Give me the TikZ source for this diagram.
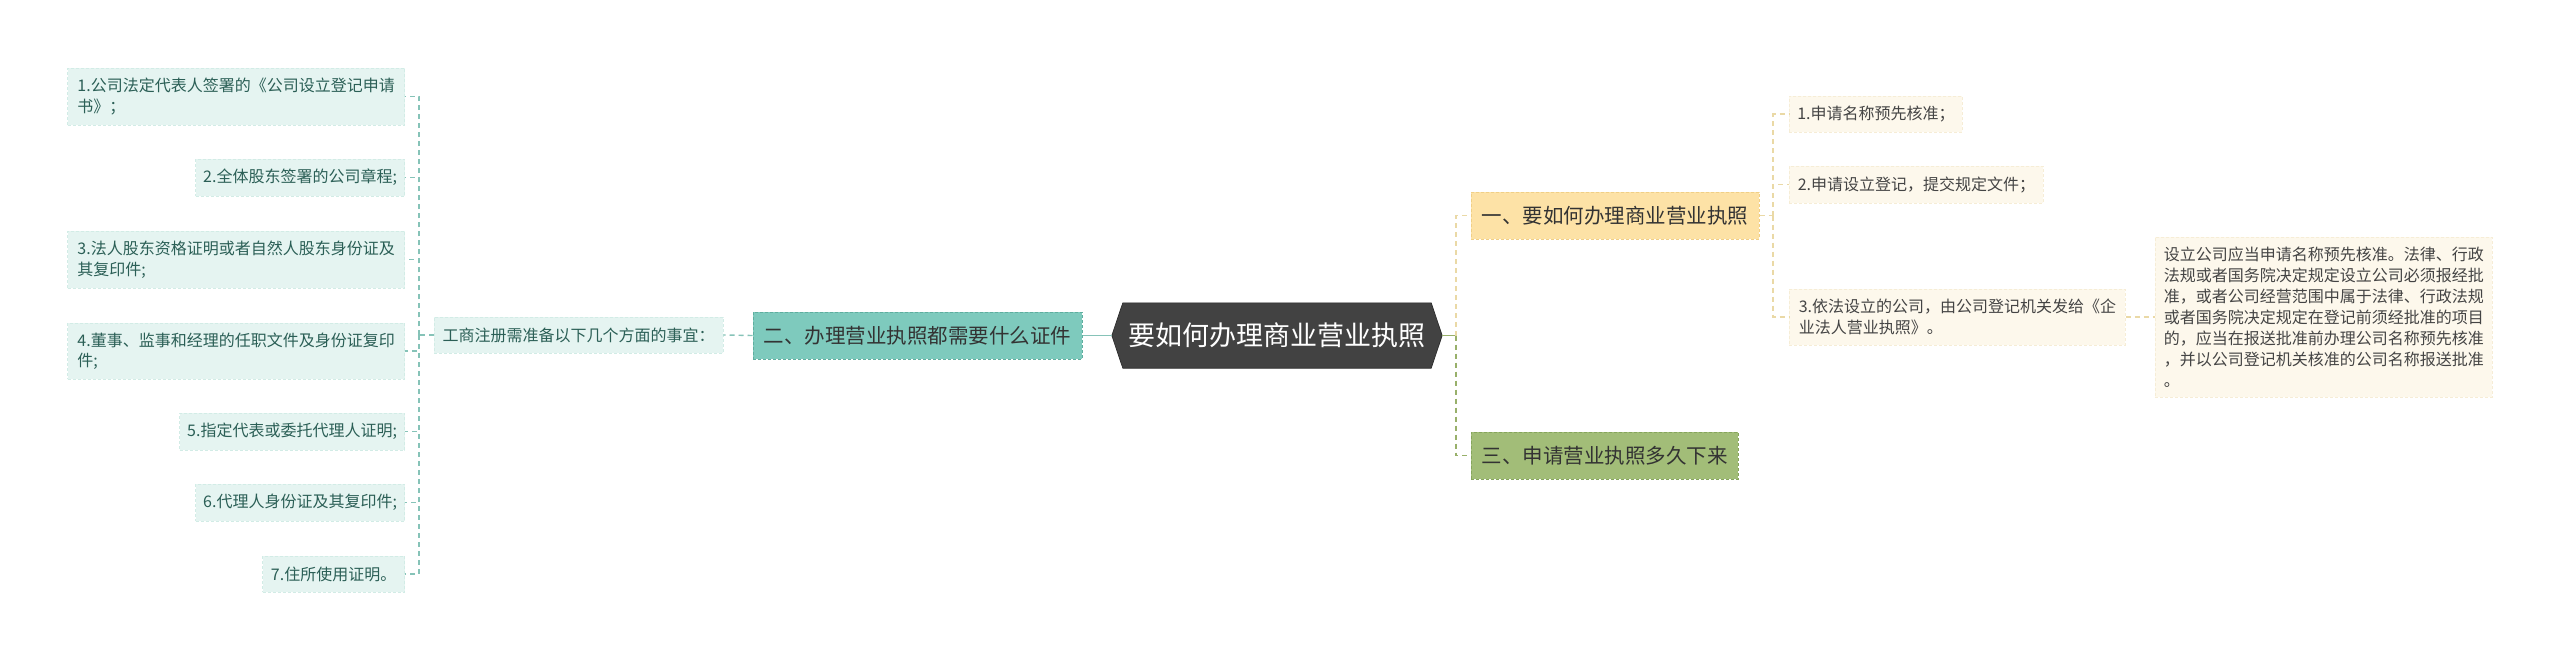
\documentclass[tikz,border=0pt]{standalone}
\usepackage{fontspec}
\setmainfont{Noto Sans CJK SC}
\usetikzlibrary{backgrounds}
\definecolor{lfill}{HTML}{E5F4F1}
\definecolor{lborder}{HTML}{D2ECE6}
\definecolor{ltext}{HTML}{2B5F56}
\definecolor{tealfill}{HTML}{7ECABD}
\definecolor{tealborder}{HTML}{5FAE9F}
\definecolor{tealline}{HTML}{86C3B8}
\definecolor{hexfill}{HTML}{424242}
\definecolor{orfill}{HTML}{FDE2A6}
\definecolor{orborder}{HTML}{F0CF86}
\definecolor{grfill}{HTML}{A2BD78}
\definecolor{grborder}{HTML}{86A55C}
\definecolor{grline}{HTML}{98B06A}
\definecolor{beline}{HTML}{EAD9A6}
\definecolor{crfill}{HTML}{FDF8EC}
\definecolor{crborder}{HTML}{F6EDD6}
\definecolor{crtext}{HTML}{444444}
\begin{document}
\begin{tikzpicture}[x=1pt,y=-1pt,
  txt/.style={inner sep=0pt, align=left, font=\fontsize{16}{20.5}\selectfont},
  lleaf/.style={txt, fill=lfill, draw=lborder, dash pattern=on 3pt off 2pt, line width=0.8pt, text=ltext, anchor=east},
  rleaf/.style={txt, fill=crfill, draw=crborder, dash pattern=on 3pt off 2pt, line width=0.8pt, text=crtext, anchor=west},
  branch/.style={inner sep=0pt, font=\fontsize{20.5}{24}\selectfont, text=black!80, minimum height=47pt, dash pattern=on 3pt off 2pt, line width=1pt},
  lconn/.style={draw=tealline, line width=1.4pt, dash pattern=on 5pt off 4pt},
  bconn/.style={draw=beline, line width=1.4pt, dash pattern=on 5pt off 4pt},
  gconn/.style={draw=grline, line width=1.4pt, dash pattern=on 5pt off 4pt}]
\begin{scope}[on background layer]
\fill[white] (0,0) rectangle (2560,661);
\end{scope}
\useasboundingbox (0,0) rectangle (2560,661);
% left leaves
\node[lleaf, minimum width=337pt, minimum height=57pt] (L1) at (405,96.5) {1.公司法定代表人签署的《公司设立登记申请\\书》；};
\node[lleaf, minimum width=209pt, minimum height=37pt] (L2) at (405,177.5) {2.全体股东签署的公司章程;};
\node[lleaf, minimum width=337pt, minimum height=57pt] (L3) at (405,259.5) {3.法人股东资格证明或者自然人股东身份证及\\其复印件;};
\node[lleaf, minimum width=337pt, minimum height=56pt] (L4) at (405,351) {4.董事、监事和经理的任职文件及身份证复印\\件;};
\node[lleaf, minimum width=225pt, minimum height=37pt] (L5) at (405,431.5) {5.指定代表或委托代理人证明;};
\node[lleaf, minimum width=209pt, minimum height=37pt] (L6) at (405,502.5) {6.代理人身份证及其复印件;};
\node[lleaf, minimum width=142pt, minimum height=36pt] (L7) at (405,574) {7.住所使用证明。};
% sub node
\node[lleaf, anchor=center, minimum width=289pt, minimum height=36pt] (S) at (578.5,335) {工商注册需准备以下几个方面的事宜：};
% branch 2
\node[branch, fill=tealfill, draw=tealborder, minimum width=329pt] (B2) at (917.5,335.5) {二、办理营业执照都需要什么证件};
% center
\node[inner sep=0pt, minimum width=330pt, minimum height=65pt, text=white, font=\fontsize{27}{32}\selectfont] (C) at (1277,335.5) {要如何办理商业营业执照};
\begin{scope}[on background layer]
\fill[hexfill, draw=black!85, line width=0.6pt] ([xshift=11pt]C.north west) -- ([xshift=-11pt]C.north east) -- (C.east) -- ([xshift=-11pt]C.south east) -- ([xshift=11pt]C.south west) -- (C.west) -- cycle;
\end{scope}
% branch 1 and 3
\node[branch, fill=orfill, draw=orborder, minimum width=288pt] (B1) at (1615,215.5) {一、要如何办理商业营业执照};
\node[branch, fill=grfill, draw=grborder, minimum width=267pt] (B3) at (1604.5,455.5) {三、申请营业执照多久下来};
% right leaves
\node[rleaf, minimum width=173pt, minimum height=36pt] (R1) at (1789,114) {1.申请名称预先核准；};
\node[rleaf, minimum width=254pt, minimum height=37pt] (R2) at (1789,184.5) {2.申请设立登记，提交规定文件；};
\node[rleaf, minimum width=336pt, minimum height=56pt] (R3) at (1789,317) {3.依法设立的公司，由公司登记机关发给《企\\业法人营业执照》。};
\node[rleaf, minimum width=337pt, minimum height=160pt, font=\fontsize{16}{21}\selectfont] (D) at (2155,317) {设立公司应当申请名称预先核准。法律、行政\\法规或者国务院决定规定设立公司必须报经批\\准，或者公司经营范围中属于法律、行政法规\\或者国务院决定规定在登记前须经批准的项目\\的，应当在报送批准前办理公司名称预先核准\\，并以公司登记机关核准的公司名称报送批准\\。};
% junctions
\coordinate (jL) at (419,335);
\coordinate (jR) at (1456,335.5);
\coordinate (jR1) at (1773,215.5);
% left connectors
\draw[lconn] (S.west) -- (jL);
\foreach \n in {L1,L2,L3,L4,L5,L6,L7} \draw[lconn] (jL) |- (\n.east);
\draw[lconn] (B2.west) -- (S.east);
\draw[draw=tealline, line width=1.4pt] (C.west) -- (B2.east);
% right connectors
\draw[draw=grline, line width=1.4pt] (C.east) -- (jR);
\draw[bconn] (jR) |- (B1.west);
\draw[gconn] (jR) |- (B3.west);
\draw[bconn] (B1.east) -- (jR1);
\foreach \n in {R1,R2,R3} \draw[bconn] (jR1) |- (\n.west);
\draw[bconn] (R3.east) -- (D.west);
\end{tikzpicture}
\end{document}
